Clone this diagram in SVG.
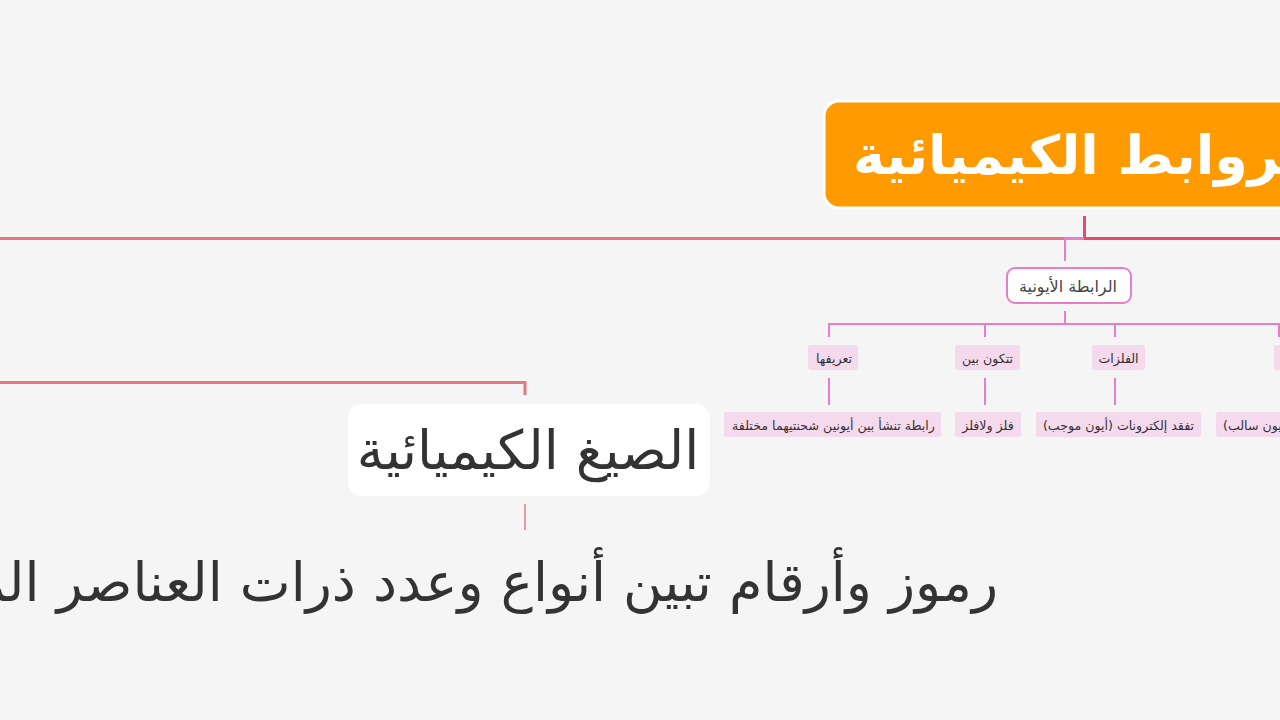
<svg xmlns="http://www.w3.org/2000/svg" width="1280" height="720" viewBox="0 0 1280 720">
<style>
.t{font-family:"DejaVu Sans","Noto Sans",sans-serif;direction:rtl;unicode-bidi:embed}
.pk{fill:none;stroke:#e97ccb;stroke-width:2}
.chip{fill:#f5d9ec}
.st{font-size:12.6px;fill:#333}
</style>
<rect width="1280" height="720" fill="#f5f5f5"/>
<g id="connectors">
<path d="M0 238.5H1065" stroke="#e07a80" stroke-width="3" fill="none"/>
<path d="M1084.5 216V238.5H1280" stroke="#e24a70" stroke-width="3" fill="none"/>
<path d="M1065 238.5H1084" stroke="#e97ccb" stroke-width="3" fill="none"/>
<path class="pk" d="M1065 238V261"/>
<path class="pk" d="M1065 311V324M829 337V324H1280M985 324V337M1115 324V337M1279 324V337"/>
<path class="pk" d="M829 378V405M985 378V405M1115 378V405"/>
<path d="M0 382.5H525V395" stroke="#e07a80" stroke-width="3" fill="none"/>
<path d="M525 504V530" stroke="#e07a80" stroke-width="1.5" fill="none"/>
</g>
<g id="central">
<rect x="824" y="101" width="480" height="107" rx="15" fill="#ff9a00" stroke="#ffffff" stroke-width="3"/>
<text class="t" x="853" y="174" text-anchor="end" font-size="54" font-weight="bold" fill="#ffffff">الروابط الكيميائية</text>
</g>
<g id="ionic">
<rect x="1007" y="268" width="124" height="35" rx="8" fill="#ffffff" stroke="#e97ccb" stroke-width="2"/>
<text class="t" x="1068" y="291.5" text-anchor="middle" font-size="16" fill="#444">الرابطة الأيونية</text>
</g>
<g id="c1"><rect class="chip" x="808" y="345" width="50" height="25" rx="3"/><text class="t st" x="834" y="362.5" text-anchor="middle">تعريفها</text></g>
<g id="c2"><rect class="chip" x="955" y="345" width="65" height="25" rx="3"/><text class="t st" x="987.5" y="362.5" text-anchor="middle">تتكون بين</text></g>
<g id="c3"><rect class="chip" x="1092" y="345" width="53" height="25" rx="3"/><text class="t st" x="1118.5" y="362.5" text-anchor="middle">الفلزات</text></g>
<g id="c4"><rect class="chip" x="1274" y="345" width="60" height="25" rx="3"/></g>
<g id="g1"><rect class="chip" x="724" y="412" width="217" height="25" rx="3"/><text class="t st" x="833.5" y="429.5" text-anchor="middle">رابطة تنشأ بين أيونين شحنتيهما مختلفة</text></g>
<g id="g2"><rect class="chip" x="955" y="412" width="66" height="25" rx="3"/><text class="t st" x="988" y="429.5" text-anchor="middle">فلز ولافلز</text></g>
<g id="g3"><rect class="chip" x="1036" y="412" width="165" height="25" rx="3"/><text class="t st" x="1118.5" y="429.5" text-anchor="middle">تفقد إلكترونات (أيون موجب)</text></g>
<g id="g4"><rect class="chip" x="1216" y="412" width="180" height="25" rx="3"/><text class="t st" x="1223" y="429.5" text-anchor="end">تكتسب إلكترونات (أيون سالب)</text></g>
<g id="formulas">
<rect x="348" y="404" width="362" height="92" rx="14" fill="#ffffff"/>
<text class="t" x="528" y="469" text-anchor="middle" font-size="54" fill="#333">الصيغ الكيميائية</text>
</g>
<g id="formulas-def">
<text class="t" x="998" y="601" text-anchor="start" font-size="54" fill="#333">رموز وأرقام تبين أنواع وعدد ذرات العناصر المكونة للمركب</text>
</g>
</svg>
